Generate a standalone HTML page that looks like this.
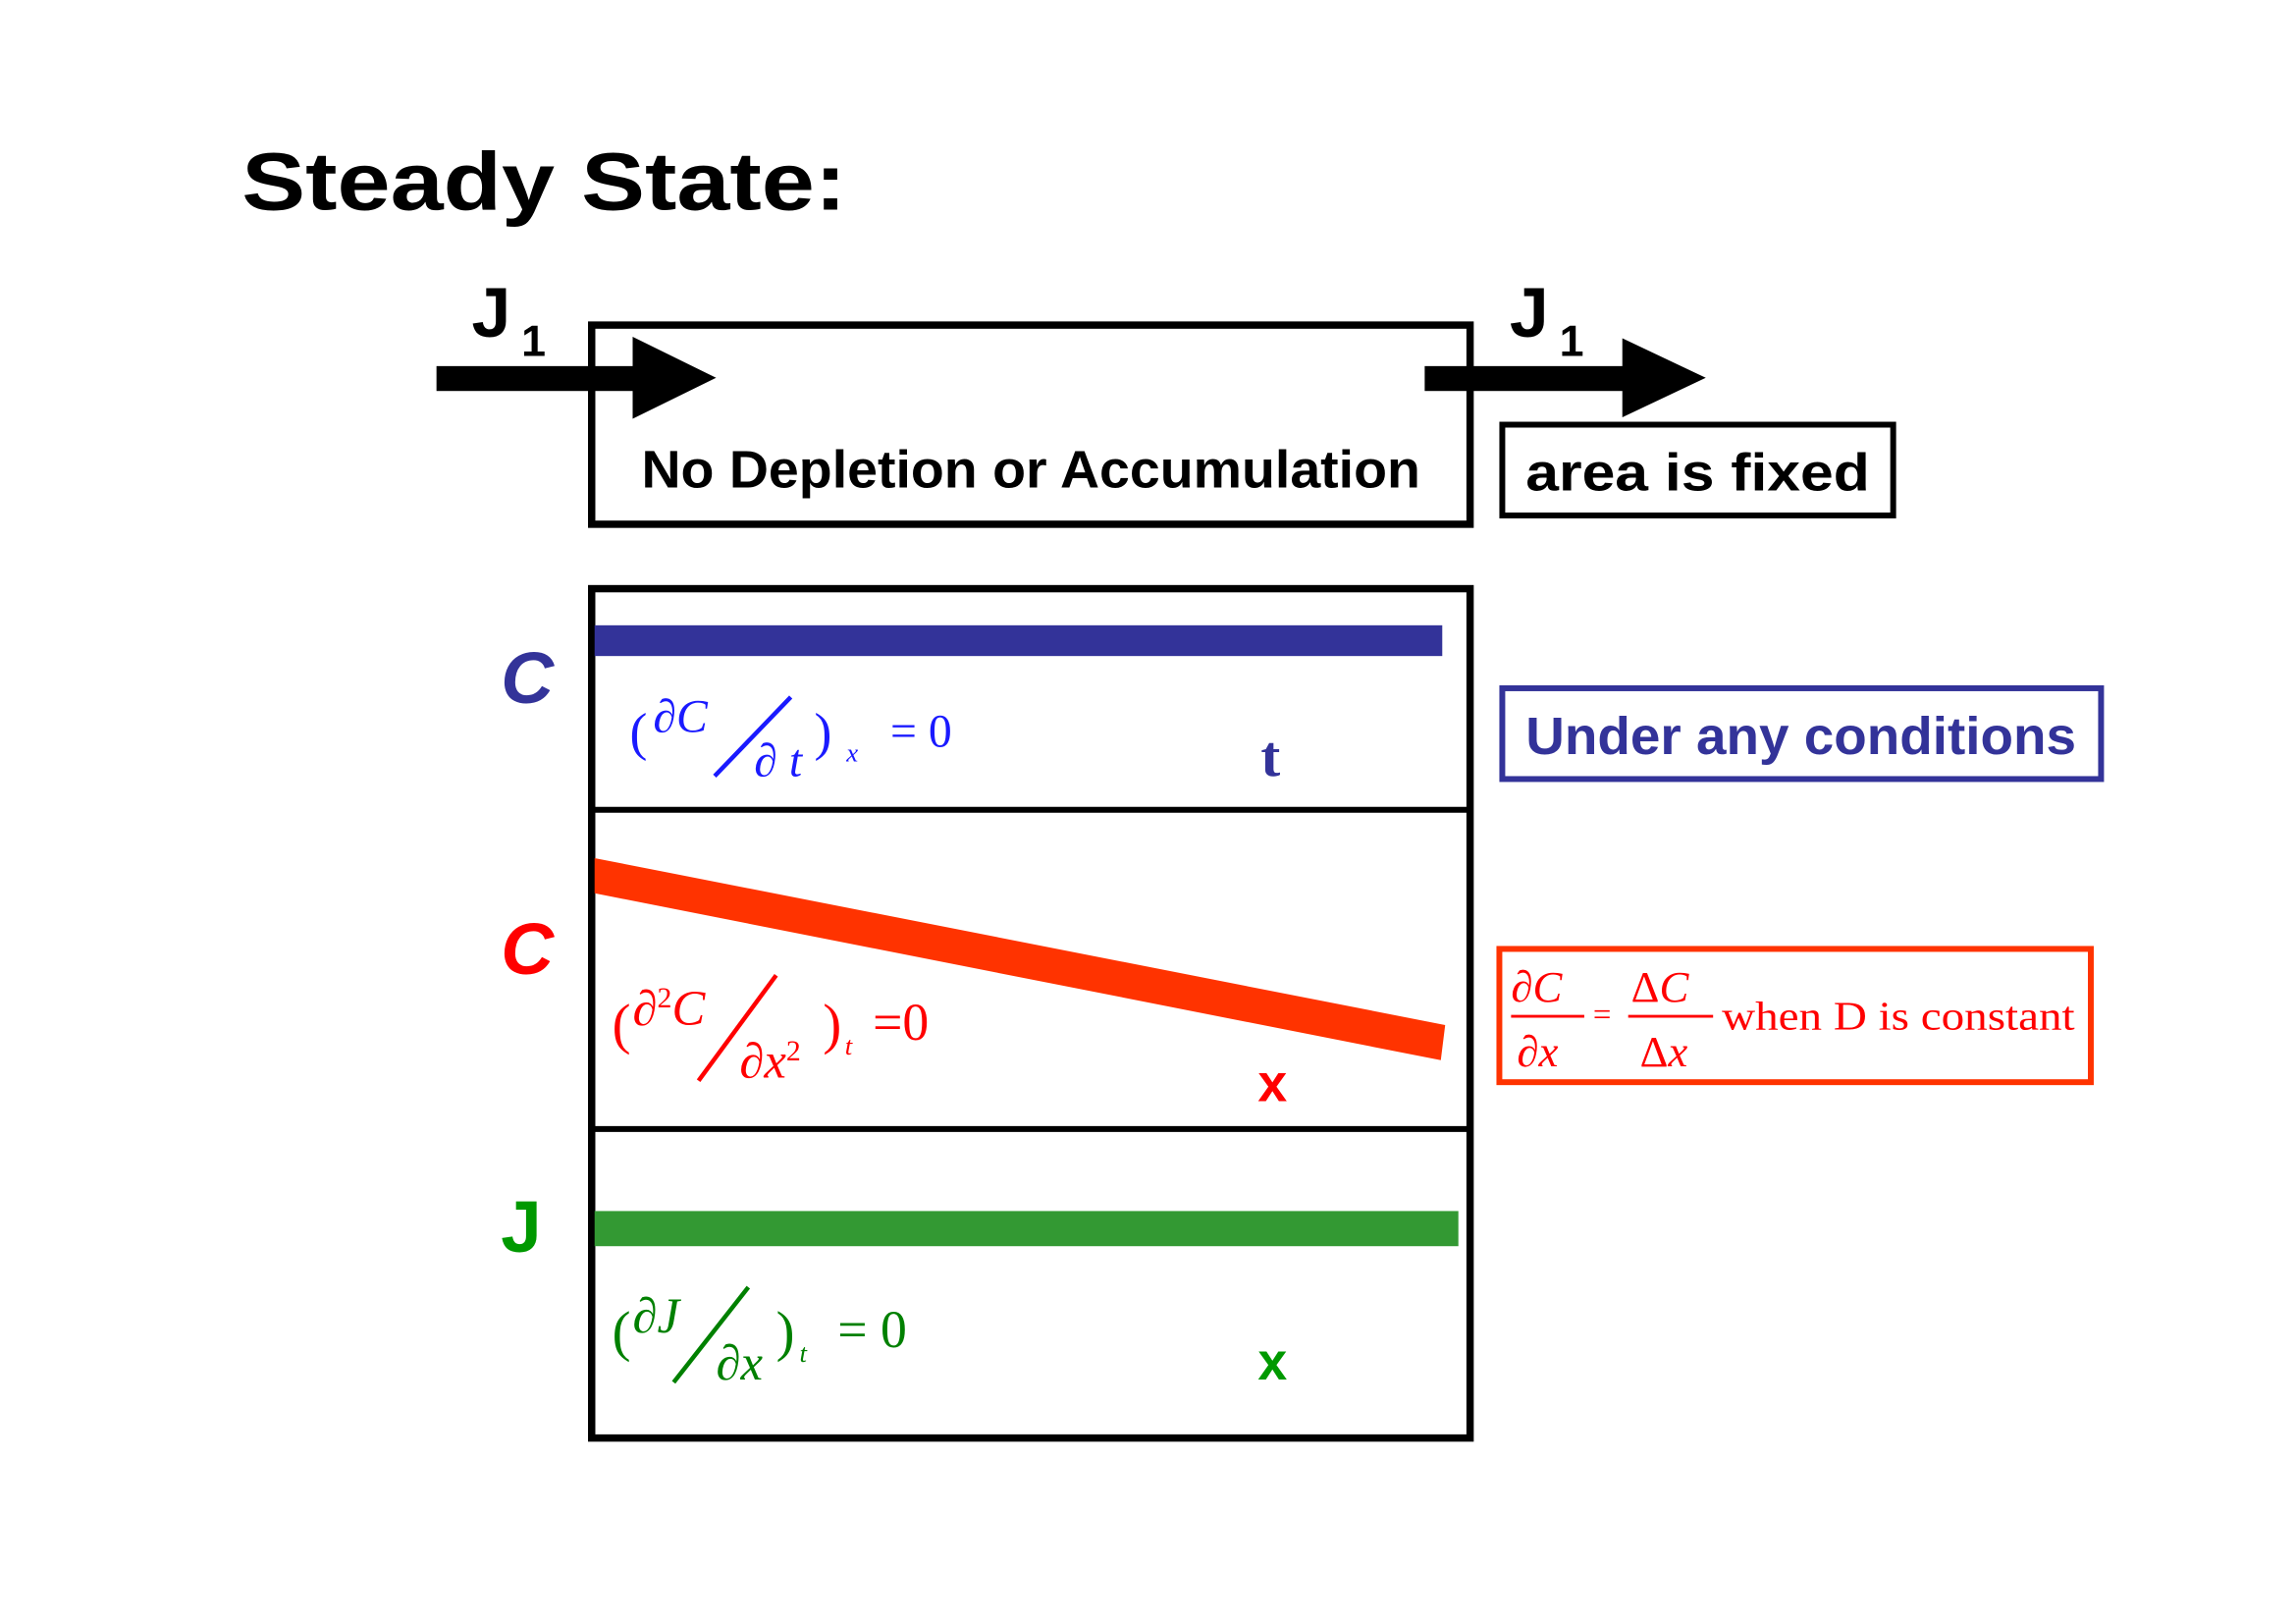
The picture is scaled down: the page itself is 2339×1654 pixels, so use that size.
<!DOCTYPE html>
<html><head><style>
html,body{margin:0;padding:0;background:#fff;}
svg{display:block;}
.c{font-family:"Liberation Sans",sans-serif;font-weight:bold;}
.m{font-family:"Liberation Serif",serif;}
</style></head><body>
<svg width="2339" height="1654" viewBox="0 0 1568 1109" xmlns="http://www.w3.org/2000/svg">
<rect width="1568" height="1109" fill="#fff"/>
<text x="165" y="143" class="c" font-size="56" fill="#000" textLength="413" lengthAdjust="spacingAndGlyphs">Steady State:</text>
<rect x="404" y="222" width="600" height="136" fill="none" stroke="#000" stroke-width="5"/>
<rect x="298" y="250" width="138" height="17" fill="#000"/>
<polygon points="432,230 489,258 432,286" fill="#000"/>
<text x="322" y="230" class="c" font-size="48">J</text><text x="356" y="243" class="c" font-size="30">1</text>
<rect x="973" y="250" width="138" height="17" fill="#000"/>
<polygon points="1108,231 1165,258 1108,285" fill="#000"/>
<text x="1031" y="230" class="c" font-size="48">J</text><text x="1065" y="243" class="c" font-size="30">1</text>
<text x="438" y="333" class="c" font-size="36" textLength="532" lengthAdjust="spacingAndGlyphs">No Depletion or Accumulation</text>
<rect x="1026" y="290" width="267" height="62" fill="none" stroke="#000" stroke-width="4"/>
<text x="1042" y="335" class="c" font-size="36" textLength="235" lengthAdjust="spacingAndGlyphs">area is fixed</text>
<rect x="404" y="402" width="600" height="580" fill="none" stroke="#000" stroke-width="5"/>
<line x1="404" y1="553" x2="1004" y2="553" stroke="#000" stroke-width="4"/>
<line x1="404" y1="771" x2="1004" y2="771" stroke="#000" stroke-width="4"/>
<rect x="406" y="427" width="579" height="21" fill="#333399"/>
<text x="342" y="480" class="c" font-size="50" font-style="italic" fill="#333399">C</text>
<text x="430" y="512" class="m" font-size="36" fill="#1a1aff">(</text>
<text x="446" y="500" class="m" font-size="32" fill="#1a1aff">∂<tspan font-style="italic">C</tspan></text>
<line x1="488" y1="530" x2="540" y2="476" stroke="#1a1aff" stroke-width="3"/>
<text x="515" y="530" class="m" font-size="32" fill="#1a1aff">∂<tspan font-style="italic"> t</tspan></text>
<text x="556" y="512" class="m" font-size="36" fill="#1a1aff">)</text>
<text x="578" y="520" class="m" font-size="18" font-style="italic" fill="#1a1aff">x</text>
<text x="608" y="510" class="m" font-size="32" fill="#1a1aff">= 0</text>
<text x="861" y="530" class="m" font-size="40" font-weight="bold" fill="#333399">t</text>
<rect x="1026" y="470" width="409" height="62" fill="none" stroke="#333399" stroke-width="4"/>
<text x="1042" y="515" class="c" font-size="36" fill="#333399" textLength="376" lengthAdjust="spacingAndGlyphs">Under any conditions</text>
<polygon points="406,586 406,610 984,724 987,700" fill="#ff3300"/>
<text x="342" y="665" class="c" font-size="50" font-style="italic" fill="#ff0000">C</text>
<text x="418" y="712" class="m" font-size="38" fill="#ff0000">(</text>
<text x="432" y="700" class="m" font-size="34" fill="#ff0000">∂<tspan font-size="20" dy="-12">2</tspan><tspan font-style="italic" dy="12">C</tspan></text>
<line x1="477" y1="738" x2="530" y2="666" stroke="#ff0000" stroke-width="3"/>
<text x="505" y="736" class="m" font-size="34" fill="#ff0000">∂<tspan font-style="italic">x</tspan><tspan font-size="20" dy="-12">2</tspan></text>
<text x="562" y="712" class="m" font-size="38" fill="#ff0000">)</text>
<text x="577" y="720" class="m" font-size="18" font-style="italic" fill="#ff0000">t</text>
<text x="596" y="710" class="m" font-size="36" fill="#ff0000">=0</text>
<text x="859" y="752" class="c" font-size="36" fill="#ff0000">x</text>
<rect x="1024" y="648" width="404" height="91" fill="none" stroke="#ff3300" stroke-width="4"/>
<text x="1032" y="684" class="m" font-size="30" fill="#ff0000">∂<tspan font-style="italic">C</tspan></text>
<line x1="1032" y1="694" x2="1082" y2="694" stroke="#ff0000" stroke-width="2"/>
<text x="1036" y="728" class="m" font-size="30" fill="#ff0000">∂<tspan font-style="italic">x</tspan></text>
<text x="1088" y="700" class="m" font-size="22" fill="#ff0000">=</text>
<text x="1114" y="684" class="m" font-size="30" fill="#ff0000">Δ<tspan font-style="italic">C</tspan></text>
<line x1="1112" y1="694" x2="1170" y2="694" stroke="#ff0000" stroke-width="2"/>
<text x="1120" y="728" class="m" font-size="30" fill="#ff0000">Δ<tspan font-style="italic">x</tspan></text>
<text x="1176" y="703" class="m" font-size="28" fill="#ff0000" textLength="241" lengthAdjust="spacingAndGlyphs">when D is constant</text>
<rect x="406" y="827" width="590" height="24" fill="#339933"/>
<text x="342" y="855" class="c" font-size="50" fill="#009900">J</text>
<text x="418" y="922" class="m" font-size="38" fill="#008000">(</text>
<text x="432" y="910" class="m" font-size="34" fill="#008000">∂<tspan font-style="italic">J</tspan></text>
<line x1="460" y1="944" x2="511" y2="879" stroke="#008000" stroke-width="3"/>
<text x="489" y="942" class="m" font-size="34" fill="#008000">∂<tspan font-style="italic">x</tspan></text>
<text x="530" y="922" class="m" font-size="38" fill="#008000">)</text>
<text x="546" y="930" class="m" font-size="18" font-style="italic" fill="#008000">t</text>
<text x="572" y="920" class="m" font-size="36" fill="#008000">= 0</text>
<text x="859" y="942" class="c" font-size="36" fill="#009900">x</text>
</svg>
</body></html>
